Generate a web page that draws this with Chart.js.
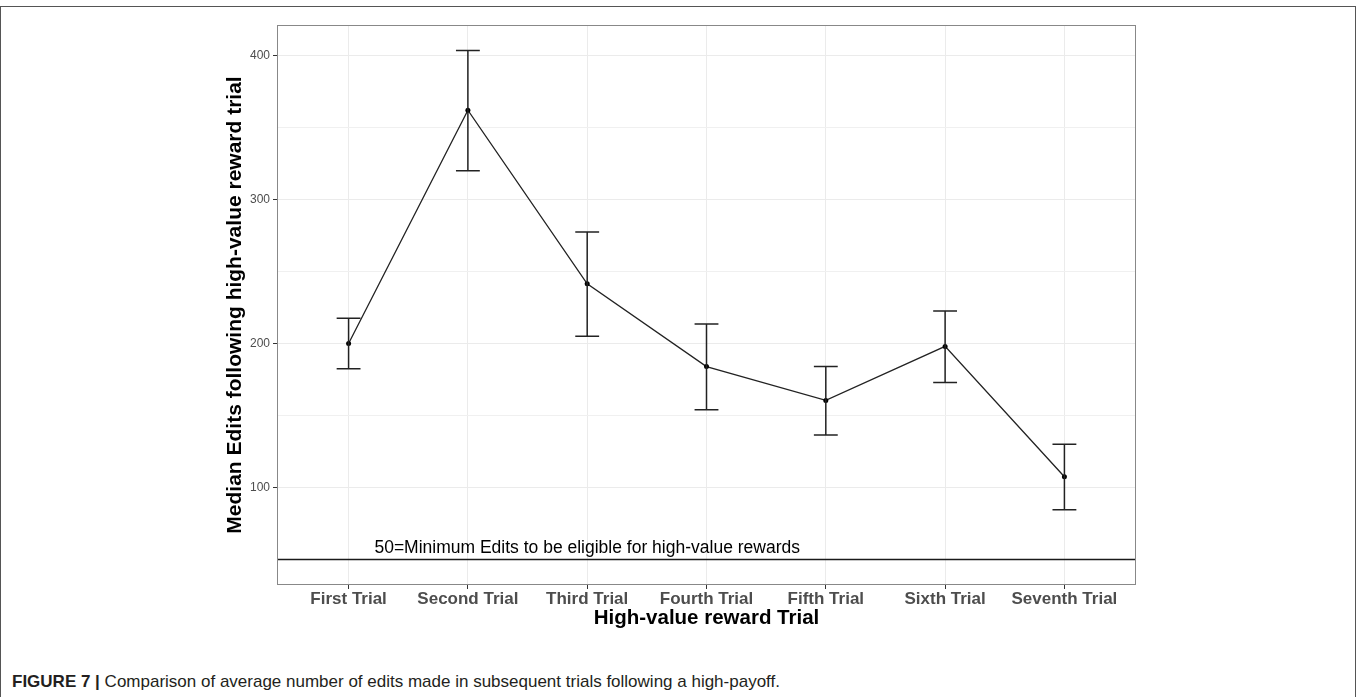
<!DOCTYPE html>
<html lang="en">
<head>
    <meta charset="UTF-8">
    <title>Median Edits following high-value reward trial</title>
    <script src="https://cdn.jsdelivr.net/npm/chart.js"></script>
    <style>
        body { margin: 0; background: #fff; font-family: "Liberation Sans", Arial, sans-serif; }
        #frame { position: absolute; left: 0; top: 6px; width: 1354px; height: 720px; border: 1px solid #555; }
        #chart { position: absolute; left: 0; top: 0; }
        #caption { position: absolute; left: 12px; top: 672px; font-size: 17px; color: #231f20; white-space: nowrap; }
        #caption b { font-weight: bold; }
    </style>
</head>
<body>
    <div id="frame"></div>
    <canvas id="chart" width="1357" height="640"></canvas>
    <div id="caption"><b>FIGURE 7 |</b> Comparison of average number of edits made in subsequent trials following a high-payoff.</div>

    <script>
        // data
        const trials = ['First Trial', 'Second Trial', 'Third Trial', 'Fourth Trial', 'Fifth Trial', 'Sixth Trial', 'Seventh Trial'];
        const medianEdits = [200, 362, 241.5, 184, 160.5, 198, 107.5];
        const upperEdits = [217.5, 403.5, 277.5, 213.5, 184, 222.5, 130];
        const lowerEdits = [182.5, 320, 205, 154, 136.5, 173, 84.5];
        const yTicks = [50, 100, 150, 200, 250, 300, 350, 400];
        const threshold = 50;
        const noteText = '50=Minimum Edits to be eligible for high-value rewards';

        const xMin = 0.4, xMax = trials.length + 0.6;
        const capHalf = 0.1;

        const meanPoints = medianEdits.map((v, i) => ({ x: i + 1, y: v }));

        const barPoints = [];
        trials.forEach((t, i) => {
            const x = i + 1;
            barPoints.push(
                { x: x - capHalf, y: upperEdits[i] }, { x: x + capHalf, y: upperEdits[i] }, { x: x, y: null },
                { x: x, y: upperEdits[i] }, { x: x, y: lowerEdits[i] }, { x: x, y: null },
                { x: x - capHalf, y: lowerEdits[i] }, { x: x + capHalf, y: lowerEdits[i] }, { x: x, y: null }
            );
        });

        const thresholdPoints = [{ x: xMin, y: threshold }, { x: xMax, y: threshold }];

        const panelExtras = {
            id: 'panelExtras',
            afterDatasetsDraw(chart) {
                const { ctx, chartArea: a, scales: { x, y } } = chart;
                ctx.save();
                ctx.font = '17.5px "Liberation Sans", Arial, sans-serif';
                ctx.fillStyle = '#000';
                ctx.textAlign = 'center';
                ctx.textBaseline = 'alphabetic';
                ctx.fillText(noteText, x.getPixelForValue(3), y.getPixelForValue(threshold) - 7);
                ctx.strokeStyle = '#888';
                ctx.lineWidth = 1;
                ctx.strokeRect(a.left + 0.5, a.top + 0.5, a.width - 1, a.height - 1);
                ctx.restore();
            }
        };

        new Chart(document.getElementById('chart').getContext('2d'), {
            type: 'line',
            data: {
                datasets: [
                    {
                        data: thresholdPoints,
                        borderColor: '#1a1a1a',
                        borderWidth: 1.5,
                        pointRadius: 0
                    },
                    {
                        data: barPoints,
                        borderColor: '#222',
                        borderWidth: 1.5,
                        pointRadius: 0,
                        spanGaps: false
                    },
                    {
                        data: meanPoints,
                        borderColor: '#222',
                        borderWidth: 1.3,
                        pointRadius: 2.5,
                        pointBackgroundColor: '#000',
                        pointBorderWidth: 0
                    }
                ]
            },
            options: {
                responsive: false,
                animation: false,
                layout: { padding: { left: 223, top: 25, right: 221, bottom: 0 } },
                plugins: {
                    legend: { display: false },
                    tooltip: { enabled: false }
                },
                scales: {
                    x: {
                        type: 'linear',
                        min: xMin,
                        max: xMax,
                        afterBuildTicks: s => { s.ticks = trials.map((t, i) => ({ value: i + 1 })); },
                        afterFit: s => { s.height = 55; },
                        border: { display: false },
                        grid: { color: '#ebebeb', tickColor: '#333', tickLength: 4 },
                        ticks: {
                            autoSkip: false,
                            maxRotation: 0,
                            padding: 0,
                            color: '#4d4d4d',
                            font: { family: '"Liberation Sans", Arial, sans-serif', size: 17, weight: 'bold' },
                            callback: v => trials[v - 1]
                        },
                        title: {
                            display: true,
                            text: 'High-value reward Trial',
                            color: '#000',
                            padding: { top: 0, bottom: 9 },
                            font: { family: '"Liberation Sans", Arial, sans-serif', size: 20.5, weight: 'bold' }
                        }
                    },
                    y: {
                        min: 32.3,
                        max: 421.2,
                        afterBuildTicks: s => { s.ticks = yTicks.map(v => ({ value: v })); },
                        afterFit: s => { s.width = 54; },
                        border: { display: false },
                        grid: {
                            color: c => (c.tick && c.tick.value % 100 ? '#f0f0f0' : '#ebebeb'),
                            tickColor: c => (c.tick && c.tick.value % 100 ? 'rgba(0,0,0,0)' : '#333'),
                            tickLength: 4
                        },
                        ticks: {
                            padding: 3,
                            color: '#4d4d4d',
                            font: { family: '"Liberation Sans", Arial, sans-serif', size: 12 },
                            callback: v => (v % 100 === 0 ? v : '')
                        },
                        title: {
                            display: true,
                            text: 'Median Edits following high-value reward trial',
                            color: '#000',
                            padding: { top: 0, bottom: 0 },
                            font: { family: '"Liberation Sans", Arial, sans-serif', size: 21, weight: 'bold' }
                        }
                    }
                }
            },
            plugins: [panelExtras]
        });
    </script>
</body>
</html>
